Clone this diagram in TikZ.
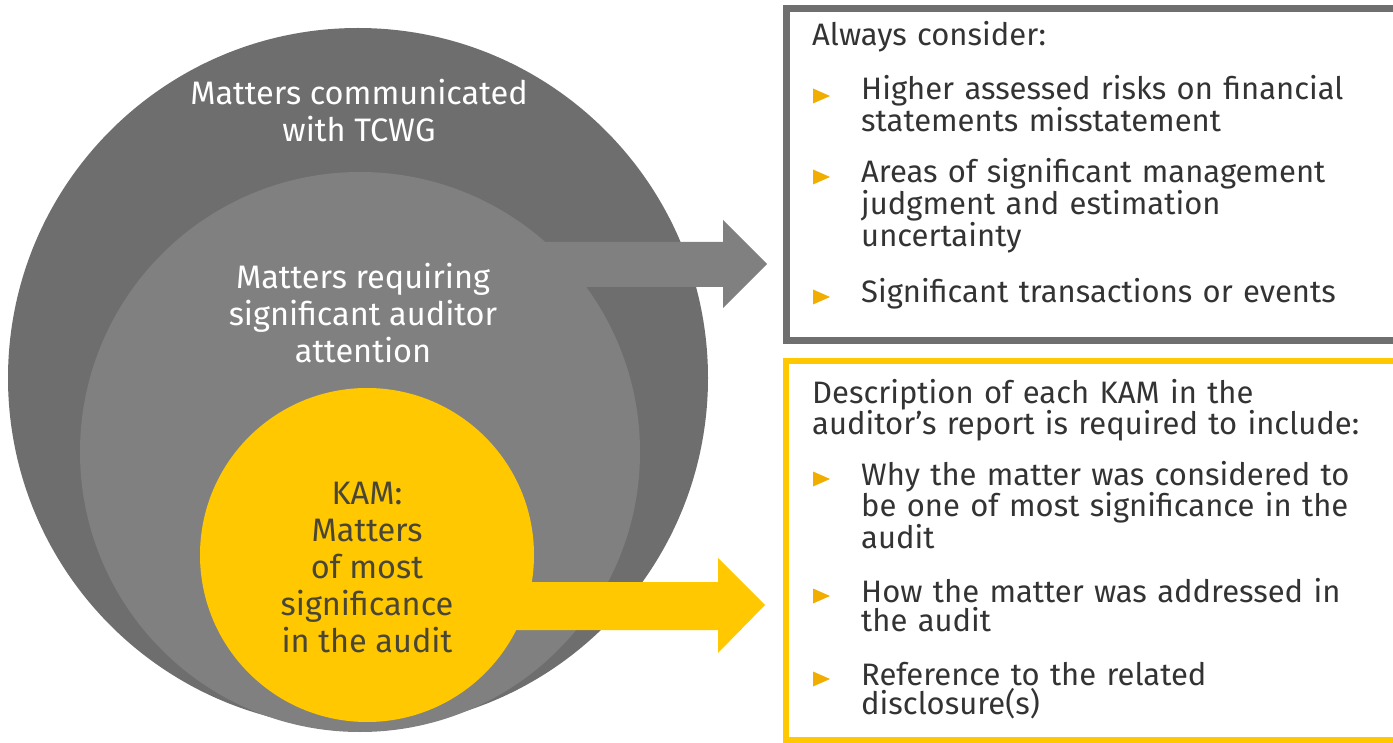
\documentclass[tikz,border=0pt]{standalone}
\usepackage{fontspec}
\setmainfont{Fira Sans}

\definecolor{ringdark}{HTML}{6E6E6E}
\definecolor{ringmid}{HTML}{808080}
\definecolor{kamyellow}{HTML}{FFC800}
\definecolor{bulletorange}{HTML}{F2AE00}
\definecolor{boxtext}{HTML}{333333}
\definecolor{kamtext}{HTML}{4A4636}
\definecolor{framegray}{HTML}{6F6F6F}

\tikzset{
	ringlabel/.style={align=center, inner sep=0pt, font=\fontsize{32.5}{37}\selectfont},
	boxline/.style={anchor=base west, inner sep=0pt, align=left, text=boxtext, text width=560pt, font=\fontsize{31}{29}\selectfont},
}

\begin{document}
\begin{tikzpicture}[x=1pt, y=-1pt]
	\useasboundingbox (0,0) rectangle (1393,743);
	
	% Nested circles
	\fill[ringdark] (358,378) circle[radius=350];
	\fill[ringmid] (360,452) circle[radius=280];
	\fill[ringmid] (520,242) -- (723,242) -- (723,220) -- (767,264) -- (723,308) -- (723,287) -- (520,287) -- cycle;
	\fill[kamyellow] (367,555) circle[radius=167];
	\fill[kamyellow] (470,582) -- (718,582) -- (718,558) -- (765,605) -- (718,653) -- (718,630) -- (470,630) -- cycle;
	
	\node[ringlabel, text=white] (tcwg) at (359,111) {Matters communicated\\with TCWG};
	\node[ringlabel, text=white] (attention) at (363,313) {Matters requiring\\significant auditor\\attention};
	\node[ringlabel, text=kamtext] (kam) at (367,567) {KAM:\\Matters\\of most\\significance\\in the audit};
	
	% Frames
	\draw[framegray, line width=7pt] (786.5,8.5) rectangle (1420,341);
	\draw[kamyellow, line width=6pt] (786,361) rectangle (1420,740);
	
	% Bullets
	\foreach \y in {96,177,297,479,596,679} {
		\fill[bulletorange] (813,\y-7.5) -- (830,\y) -- (813,\y+7.5) -- cycle;
	}
	
	% Upper box
	\node[boxline] (consider) at (812,46) {Always consider:};
	\node[boxline] (risks) at (861,100) {Higher assessed risks on financial\\statements misstatement};
	\node[boxline] (judgment) at (861,183) {Areas of significant management\\judgment and estimation\\uncertainty};
	\node[boxline] (events) at (861,303) {Significant transactions or events};
	
	% Lower box
	\node[boxline] (include) at (812,403) {Description of each KAM in the\\auditor's report is required to include:};
	\node[boxline] (why) at (861,485) {Why the matter was considered to\\be one of most significance in the\\audit};
	\node[boxline] (how) at (861,602) {How the matter was addressed in\\the audit};
	\node[boxline] (disclosure) at (861,685) {Reference to the related\\disclosure(s)};
\end{tikzpicture}
\end{document}
